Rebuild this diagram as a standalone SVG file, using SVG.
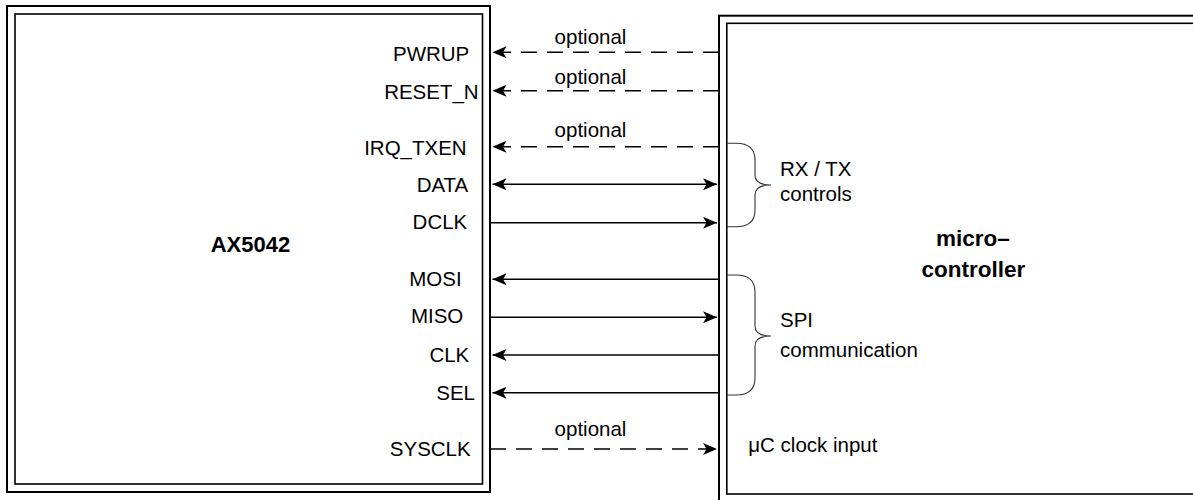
<svg xmlns="http://www.w3.org/2000/svg" width="1193" height="500" viewBox="0 0 1193 500">
  <style>
    .box { fill: none; stroke: #000; }
    .outer { stroke-width: 2; }
    .inner { stroke-width: 1.6; }
    .lbl { font-family: "Liberation Sans", Arial, sans-serif; font-size: 20.5px; fill: #000; }
    .pin { text-anchor: end; }
    .title { font-family: "Liberation Sans", Arial, sans-serif; font-size: 22.5px; font-weight: bold; fill: #000; text-anchor: middle; }
    .opt { text-anchor: middle; }
    .wire { stroke: #000; stroke-width: 1.6; fill: none; }
    .dash { stroke-dasharray: 16 10; }
    .brace { stroke: #333; stroke-width: 1.1; fill: none; }
  </style>
  <defs>
    <marker id="arr" markerUnits="userSpaceOnUse" markerWidth="15" markerHeight="13" refX="14" refY="6.5" orient="auto-start-reverse">
      <path d="M0,0.5 L14,6.5 L0,12.5 L3.5,6.5 Z" fill="#000"/>
    </marker>
  </defs>
  <rect width="1193" height="500" fill="#fff"/>

  <g id="ax5042">
    <rect class="box outer" x="7" y="6" width="483" height="486"/>
    <rect class="box inner" x="15" y="14" width="467.5" height="470"/>
    <text class="title" x="250.5" y="252.3" style="font-size:22px">AX5042</text>
    <text class="lbl pin" x="469.3" y="60.7">PWRUP</text>
    <text class="lbl pin" x="478.7" y="99">RESET_N</text>
    <text class="lbl pin" x="466.7" y="155">IRQ_TXEN</text>
    <text class="lbl pin" x="468.3" y="192.3">DATA</text>
    <text class="lbl pin" x="467.3" y="229.3">DCLK</text>
    <text class="lbl pin" x="461.7" y="286">MOSI</text>
    <text class="lbl pin" x="463.3" y="323.3">MISO</text>
    <text class="lbl pin" x="469.3" y="361.7">CLK</text>
    <text class="lbl pin" x="475" y="400">SEL</text>
    <text class="lbl pin" x="470.7" y="455.7">SYSCLK</text>
  </g>

  <g id="microcontroller">
    <rect class="box outer" x="719" y="15.7" width="490" height="500"/>
    <rect class="box inner" x="726.8" y="23.3" width="480" height="470.7"/>
    <text class="title" x="973" y="246">micro–</text>
    <text class="title" x="973.3" y="276.7">controller</text>
    <text class="lbl" x="780" y="176">RX / TX</text>
    <text class="lbl" x="780" y="200.7">controls</text>
    <text class="lbl" x="780" y="326.7">SPI</text>
    <text class="lbl" x="780" y="357">communication</text>
    <text class="lbl" x="748.3" y="451.7">μC clock input</text>
    <path class="brace" d="M727,143.3 H736 Q755,143.3 755,160 V175 Q755,185 771,185 Q755,185 755,195 V210 Q755,226.7 736,226.7 H727"/>
    <path class="brace" d="M727,275 H736 Q755,275 755,292 V326 Q755,336 771,336 Q755,336 755,346 V378 Q755,395 736,395 H727"/>
  </g>

  <g id="connectors">
    <line class="wire dash" x1="719" y1="52.3" x2="492.5" y2="52.3" marker-end="url(#arr)"/>
    <line class="wire dash" x1="719" y1="90.7" x2="492.5" y2="90.7" marker-end="url(#arr)"/>
    <line class="wire dash" x1="719" y1="146.7" x2="492.5" y2="146.7" marker-end="url(#arr)"/>
    <line class="wire" x1="492.5" y1="184.3" x2="717" y2="184.3" marker-start="url(#arr)" marker-end="url(#arr)"/>
    <line class="wire" x1="490" y1="222.7" x2="717" y2="222.7" marker-end="url(#arr)"/>
    <line class="wire" x1="719" y1="279.3" x2="492.5" y2="279.3" marker-end="url(#arr)"/>
    <line class="wire" x1="490" y1="317.3" x2="717" y2="317.3" marker-end="url(#arr)"/>
    <line class="wire" x1="719" y1="355" x2="492.5" y2="355" marker-end="url(#arr)"/>
    <line class="wire" x1="719" y1="392.7" x2="492.5" y2="392.7" marker-end="url(#arr)"/>
    <line class="wire dash" x1="490" y1="449" x2="717" y2="449" marker-end="url(#arr)"/>
    <text class="lbl opt" x="590.5" y="43.5">optional</text>
    <text class="lbl opt" x="590.5" y="84">optional</text>
    <text class="lbl opt" x="590.5" y="137">optional</text>
    <text class="lbl opt" x="590.5" y="436">optional</text>
  </g>
</svg>
